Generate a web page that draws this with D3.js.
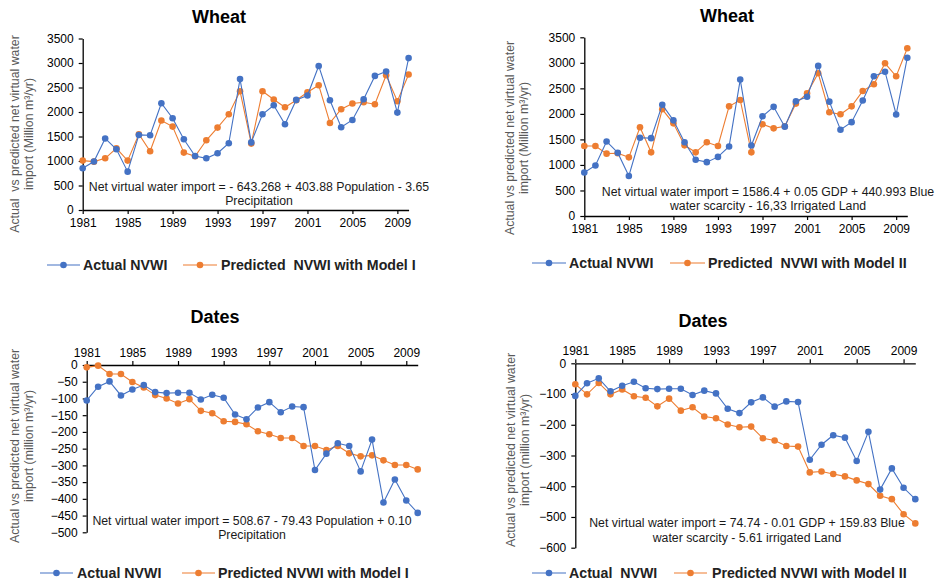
<!DOCTYPE html>
<html>
<head>
<meta charset="utf-8">
<script src="https://cdn.jsdelivr.net/npm/d3@7"></script>
<style>
  html, body { margin: 0; padding: 0; background: #fff; }
  svg { display: block; font-family: "Liberation Sans", Arial, sans-serif; }
  text { white-space: pre; }
</style>
</head>
<body>
<svg id="chart" width="943" height="582"></svg>
<script>
// ---------------- DATA ----------------
const years = [1981,1982,1983,1984,1985,1986,1987,1988,1989,1990,1991,1992,1993,1994,1995,
               1996,1997,1998,1999,2000,2001,2002,2003,2004,2005,2006,2007,2008,2009,2010];
const yearTickLabels = [1981,1985,1989,1993,1997,2001,2005,2009];

const wheatActual = [851,990,1460,1240,783,1532,1525,2179,1873,1444,1103,1055,1158,1362,2672,
                     1380,1954,2138,1750,2247,2336,2940,2240,1689,1838,2261,2737,2826,1988,3100];
const wheatPredModelI = [1008,987,1055,1260,1008,1546,1198,1825,1702,1171,1096,1423,1682,1954,2424,
                         1355,2424,2254,2097,2240,2404,2547,1777,2056,2172,2199,2159,2751,2220,2765];
const wheatPredModelII = [1371,1371,1221,1228,1149,1737,1247,2090,1815,1384,1247,1443,1371,2148,2272,
                          1247,1796,1717,1757,2201,2403,2795,2031,1992,2148,2449,2579,2991,2736,3285];

const datesActual = [-106,-65,-49,-91,-73,-60,-81,-84,-83,-83,-103,-89,-98,-148,-162,
                     -127,-111,-141,-124,-126,-314,-265,-234,-242,-318,-223,-411,-342,-405,-442];
const datesPredModelI = [-7,-2,-27,-27,-51,-67,-90,-100,-115,-102,-137,-144,-168,-170,-177,
                         -198,-207,-218,-218,-242,-242,-254,-242,-264,-273,-270,-285,-299,-299,-312];
const datesPredModelII = [-68,-101,-64,-101,-85,-107,-112,-140,-115,-154,-143,-173,-179,-199,-208,
                          -206,-244,-251,-269,-271,-355,-352,-360,-368,-381,-393,-431,-442,-491,-521];

const wheatYTicks = [0,500,1000,1500,2000,2500,3000,3500];
const datesIYTicks = [0,-50,-100,-150,-200,-250,-300,-350,-400,-450,-500];
const datesIIYTicks = [0,-100,-200,-300,-400,-500,-600];

// ---------------- LAYOUT ----------------
const BLUE = "#4472C4", ORANGE = "#ED7D31";
const svg = d3.select("#chart");

const panels = [
  { title: "Wheat", titleX: 219, titleY: 17,
    xRange: [82.7, 408.6], yDomain: [0, 3500], yRange: [210, 38.5], yTicks: wheatYTicks,
    xAxisPos: "bottom", actual: wheatActual, pred: wheatPredModelI,
    ylab: ["Actual  vs predicted net virtual water", "import (Million m³/yr)"],
    ylabX: [15, 28.5], ylabY: 134,
    eq: ["Net virtual water import = - 643.268 + 403.88 Population - 3.65", "Precipitation"],
    eqX: 259, eqY: [187, 201],
    legY: 265, leg: [{x1: 47, x2: 80, tx: 83, text: "Actual NVWI"}, {x1: 183, x2: 217, tx: 221, text: "Predicted  NVWI with Model I"}] },
  { title: "Wheat", titleX: 727, titleY: 16,
    xRange: [584.3, 907.3], yDomain: [0, 3500], yRange: [216, 37.3], yTicks: wheatYTicks,
    xAxisPos: "bottom", actual: wheatActual, pred: wheatPredModelII,
    ylab: ["Actual vs predicted net virtual water", "import (Million m³/yr)"],
    ylabX: [510, 524], ylabY: 138,
    eq: ["Net virtual water import = 1586.4 + 0.05 GDP + 440.993 Blue", "water scarcity - 16,33 Irrigated Land"],
    eqX: 768, eqY: [192, 206],
    legY: 263, leg: [{x1: 532, x2: 566, tx: 569, text: "Actual NVWI"}, {x1: 670, x2: 705, tx: 708, text: "Predicted  NVWI with Model II"}] },
  { title: "Dates", titleX: 215, titleY: 317,
    xRange: [86.7, 417.7], yDomain: [-500, 0], yRange: [532.3, 365], yTicks: datesIYTicks,
    xAxisPos: "top", actual: datesActual, pred: datesPredModelI,
    ylab: ["Actual vs predicted net virtual water", "import (million m³/yr)"],
    ylabX: [15, 29], ylabY: 446,
    eq: ["Net virtual water import = 508.67 - 79.43 Population + 0.10", "Precipitation"],
    eqX: 252, eqY: [521, 535],
    legY: 573, leg: [{x1: 40, x2: 73, tx: 77, text: "Actual NVWI"}, {x1: 182, x2: 215, tx: 218, text: "Predicted NVWI with Model I"}] },
  { title: "Dates", titleX: 703, titleY: 320.5,
    xRange: [575.3, 915.3], yDomain: [-600, 0], yRange: [547.7, 363.3], yTicks: datesIIYTicks,
    xAxisPos: "top", actual: datesActual, pred: datesPredModelII,
    ylab: ["Actual vs predicted net virtual water", "import (million m³/yr)"],
    ylabX: [511, 525], ylabY: 450,
    eq: ["Net virtual water import = 74.74 - 0.01 GDP + 159.83 Blue", "water scarcity - 5.61 irrigated Land"],
    eqX: 747, eqY: [523, 538],
    legY: 573, leg: [{x1: 532, x2: 566, tx: 569, text: "Actual  NVWI"}, {x1: 674, x2: 707, tx: 712, text: "Predicted NVWI with Model II"}] }
];

panels.forEach(p => {
  const g = svg.append("g");
  const x = d3.scaleLinear().domain([years[0], years[years.length - 1]]).range(p.xRange);
  const y = d3.scaleLinear().domain(p.yDomain).range(p.yRange);

  // title
  g.append("text").attr("x", p.titleX).attr("y", p.titleY)
    .attr("text-anchor", "middle").attr("dominant-baseline", "central")
    .attr("font-size", 18).attr("font-weight", "bold").attr("fill", "#000").text(p.title);

  // y axis
  const yAxis = d3.axisLeft(y).tickValues(p.yTicks).tickSize(4).tickSizeOuter(0).tickPadding(5)
    .tickFormat(d3.format("d"));
  const ya = g.append("g").attr("transform", `translate(${p.xRange[0]},0)`).call(yAxis);

  // x axis
  const xAxis = (p.xAxisPos === "bottom" ? d3.axisBottom(x) : d3.axisTop(x))
    .tickValues(yearTickLabels).tickSize(4).tickSizeOuter(0).tickPadding(4).tickFormat(d3.format("d"));
  const xa = g.append("g").attr("transform", `translate(0,${y(0)})`).call(xAxis);

  [ya, xa].forEach(a => {
    a.select(".domain").attr("stroke", "#000").attr("stroke-width", 1.3);
    a.selectAll(".tick line").attr("stroke", "#000").attr("stroke-width", 1.2);
    a.selectAll(".tick text").attr("fill", "#000").attr("font-size", 12)
      .attr("font-family", "Liberation Sans, Arial, sans-serif");
  });

  // y label
  p.ylab.forEach((t, i) => {
    g.append("text")
      .attr("transform", `translate(${p.ylabX[i]},${p.ylabY}) rotate(-90)`)
      .attr("text-anchor", "middle").attr("dominant-baseline", "central")
      .attr("font-size", 12.3).attr("fill", "#595959").text(t);
  });

  // equation
  p.eq.forEach((t, i) => {
    g.append("text").attr("x", p.eqX).attr("y", p.eqY[i])
      .attr("text-anchor", "middle").attr("dominant-baseline", "central")
      .attr("font-size", 12.3).attr("fill", "#1a1a1a").text(t);
  });

  // series
  const line = d3.line().x((d, i) => x(years[i])).y(d => y(d));
  [[p.pred, ORANGE], [p.actual, BLUE]].forEach(([vals, col]) => {
    g.append("path").datum(vals).attr("d", line)
      .attr("fill", "none").attr("stroke", col).attr("stroke-width", 1.1);
    g.selectAll(null).data(vals).enter().append("circle")
      .attr("cx", (d, i) => x(years[i])).attr("cy", d => y(d)).attr("r", 3.3).attr("fill", col);
  });

  // legend
  p.leg.forEach((l, i) => {
    const col = i === 0 ? BLUE : ORANGE;
    g.append("line").attr("x1", l.x1).attr("x2", l.x2).attr("y1", p.legY).attr("y2", p.legY)
      .attr("stroke", col).attr("stroke-width", 1.1);
    g.append("circle").attr("cx", (l.x1 + l.x2) / 2).attr("cy", p.legY).attr("r", 3.3).attr("fill", col);
    g.append("text").attr("x", l.tx).attr("y", p.legY).attr("dominant-baseline", "central")
      .attr("font-size", 14.2).attr("font-weight", "bold").attr("fill", "#222").text(l.text);
  });
});
</script>
</body>
</html>
